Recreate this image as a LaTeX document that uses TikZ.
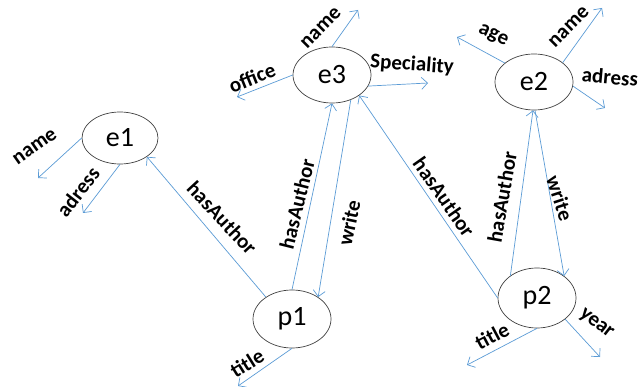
\documentclass[tikz,border=0pt]{standalone}
\usepackage{fontspec}
\setmainfont{Carlito}
\usetikzlibrary{shapes.geometric,arrows.meta}
\definecolor{linkblue}{RGB}{91,155,213}

\begin{document}
\begin{tikzpicture}[x=1pt,y=-1pt,
        ent/.style={draw=black!75,line width=0.7pt,ellipse,minimum width=78pt,minimum height=56pt,inner sep=0pt,font=\fontsize{28}{32}\selectfont},
        rel/.style={draw=linkblue,line width=0.7pt,-{Straight Barb[length=6pt,width=12pt]}},
        lbl/.style={font=\bfseries\fontsize{21}{24}\selectfont,inner sep=0pt}]
            \useasboundingbox (0,0) rectangle (639,387);

            \node[ent,minimum height=52pt,minimum width=76pt] (e1) at (120,138) {e1};
            \node[ent] (e3) at (332,75)  {e3};
            \node[ent] (e2) at (534,82)  {e2};
            \node[ent,minimum height=58pt] (p1) at (292,319) {p1};
            \node[ent,minimum height=60pt] (p2) at (537,298) {p2};

            \coordinate (e1name)   at (38,178);
            \coordinate (e1adress) at (83,213);
            \coordinate (e3office) at (237,97);
            \coordinate (e3name)   at (358,10);
            \coordinate (e3spec)   at (428,83);
            \coordinate (e2age)    at (457,37);
            \coordinate (e2name)   at (602,8);
            \coordinate (e2adress) at (605,108);
            \coordinate (p1title)  at (238,386);
            \coordinate (p2title)  at (467,365);
            \coordinate (p2year)   at (600,357);

            \draw[rel] (e1.180) -- (e1name);
            \draw[rel] (e1.-90) -- (e1adress);
            \draw[rel] (e3.180) -- (e3office);
            \draw[rel] (e3.90)  -- (e3name);
            \draw[rel] (e3.-17) -- (e3spec);
            \draw[rel] (e2.147) -- (e2age);
            \draw[rel] (e2.34)  -- (e2name);
            \draw[rel] (e2.-6)  -- (e2adress);
            \draw[rel] (p1.-90) -- (p1title);
            \draw[rel] (p2.-90) -- (p2title);
            \draw[rel] (p2.-37) -- (p2year);

            \draw[rel] (p1.140) -- (e1.-35);
            \draw[rel] (p1.90)  -- (e3.-90);
            \draw[rel] (e3.-53) -- (p1.40);
            \draw[rel] (p2.180) -- (e3.-37);
            \draw[rel] (p2.140) -- (e2.-92);
            \draw[rel] (e2.-88) -- (p2.39);

            \node[lbl,rotate=35]  (l1)  at (35,147)  {name};
            \node[lbl,rotate=52]  (l2)  at (78,192)  {adress};
            \node[lbl,rotate=22]  (l3)  at (252,78)  {office};
            \node[lbl,rotate=45]  (l4)  at (321,28)  {name};
            \node[lbl,rotate=-4]  (l5)  at (412,65)  {Speciality};
            \node[lbl,rotate=-25] (l6)  at (493,36)  {age};
            \node[lbl,rotate=45]  (l7)  at (569,27)  {name};
            \node[lbl,rotate=-5]  (l8)  at (610,77)  {adress};
            \node[lbl,rotate=32]  (l9)  at (247,363) {title};
            \node[lbl,rotate=28]  (l10) at (492,336) {title};
            \node[lbl,rotate=-38] (l11) at (596,324) {year};
            \node[lbl,rotate=-47] (l12) at (222,218) {hasAuthor};
            \node[lbl,rotate=76]  (l13) at (297,204) {hasAuthor};
            \node[lbl,rotate=78]  (l14) at (349,223) {write};
            \node[lbl,rotate=-55] (l15) at (444,197) {hasAuthor};
            \node[lbl,rotate=80]  (l16) at (502,197) {hasAuthor};
            \node[lbl,rotate=-72] (l17) at (560,198) {write};
        \end{tikzpicture}
\end{document}
